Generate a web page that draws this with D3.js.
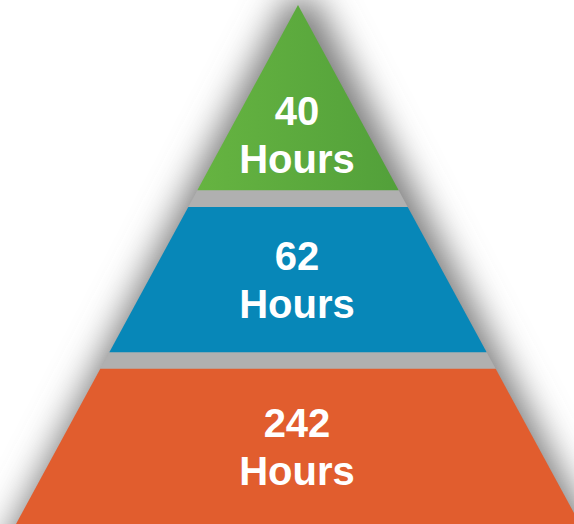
<!DOCTYPE html>
<html>
<head>
<meta charset="utf-8">
<script src="https://cdn.jsdelivr.net/npm/d3@7"></script>
<style>
  html, body { margin: 0; padding: 0; background: #fff; }
  svg { display: block; }
</style>
</head>
<body>
<svg id="chart"></svg>
<script>
// tiers, top to bottom
var values = [40, 62, 242];
var units = ["Hours", "Hours", "Hours"];
var colors = ["#5ca93c", "#0787b8", "#e15d2e"];

var W = 574, H = 524;

// where each tier sits on the pyramid, 0 = apex, 1 = bottom edge
var tierTop = [0, 0.389, 0.701],
    tierBot = [0.357, 0.669, 1];

var svg = d3.select("#chart").attr("width", W).attr("height", H);

var y = d3.scaleLinear().domain([0, 1]).range([5, 524]),
    x = d3.scaleLinear().domain([-1, 1]).range([16, 580]);

var defs = svg.append("defs");
defs.append("filter")
  .attr("id", "soft")
  .attr("x", "-30%").attr("y", "-30%")
  .attr("width", "160%").attr("height", "160%")
  .append("feGaussianBlur")
  .attr("stdDeviation", 17);

var g = defs.append("linearGradient")
  .attr("id", "green")
  .attr("x1", 0).attr("x2", 1).attr("y1", 0).attr("y2", 0);
g.append("stop").attr("offset", "0%").attr("stop-color", "#66b441");
g.append("stop").attr("offset", "100%").attr("stop-color", "#52a03a");

// trapezoid between two heights on the pyramid
var shape = function (t0, t1, grow) {
  grow = grow || 0;
  return d3.line()([
    [x(-t0) - grow, y(t0) - grow],
    [x(t0) + grow, y(t0) - grow],
    [x(t1) + grow, y(t1) + grow],
    [x(-t1) - grow, y(t1) + grow]
  ]) + "Z";
};

// shadow behind the whole pyramid
svg.append("path")
  .attr("d", shape(0, 1.05, 12))
  .attr("transform", "translate(3,4)")
  .attr("fill", "#7a7a7a")
  .attr("filter", "url(#soft)");
// gray that shows through the gaps between tiers
svg.selectAll("rect.gap")
  .data(tierBot.slice(0, 2))
  .enter()
  .append("path")
  .attr("class", "gap")
  .attr("d", function (d, i) { return shape(d - 0.002, tierTop[i + 1] + 0.002) })
  .attr("fill", "#b0b0b0");

var tiers = svg.selectAll("g.tier")
  .data(values)
  .enter()
  .append("g")
  .attr("class", "tier");

tiers.append("path")
  .attr("d", function (d, i) { return shape(tierTop[i], tierBot[i]) })
  .attr("fill", function (d, i) { return i ? colors[i] : "url(#green)" });

// label centre: middle of band, lower down for the triangle
var mid = function (i) {
  var y0 = y(tierTop[i]), y1 = y(tierBot[i]);
  return y0 + (y1 - y0) * (tierTop[i] === 0 ? 0.7 : 0.5);
};

var lbl = tiers.append("text")
  .attr("text-anchor", "middle")
  .attr("font-family", "'Liberation Sans', Arial, sans-serif")
  .attr("font-weight", "bold")
  .attr("font-size", "40px")
  .attr("fill", "#fff");
lbl.append("tspan")
  .attr("x", 297)
  .attr("y", function (d, i) { return mid(i) - 9.5 })
  .text(function (d) { return d });
lbl.append("tspan")
  .attr("x", 297)
  .attr("y", function (d, i) { return mid(i) + 38.5 })
  .text(function (d, i) { return units[i] });
</script>
</body>
</html>
